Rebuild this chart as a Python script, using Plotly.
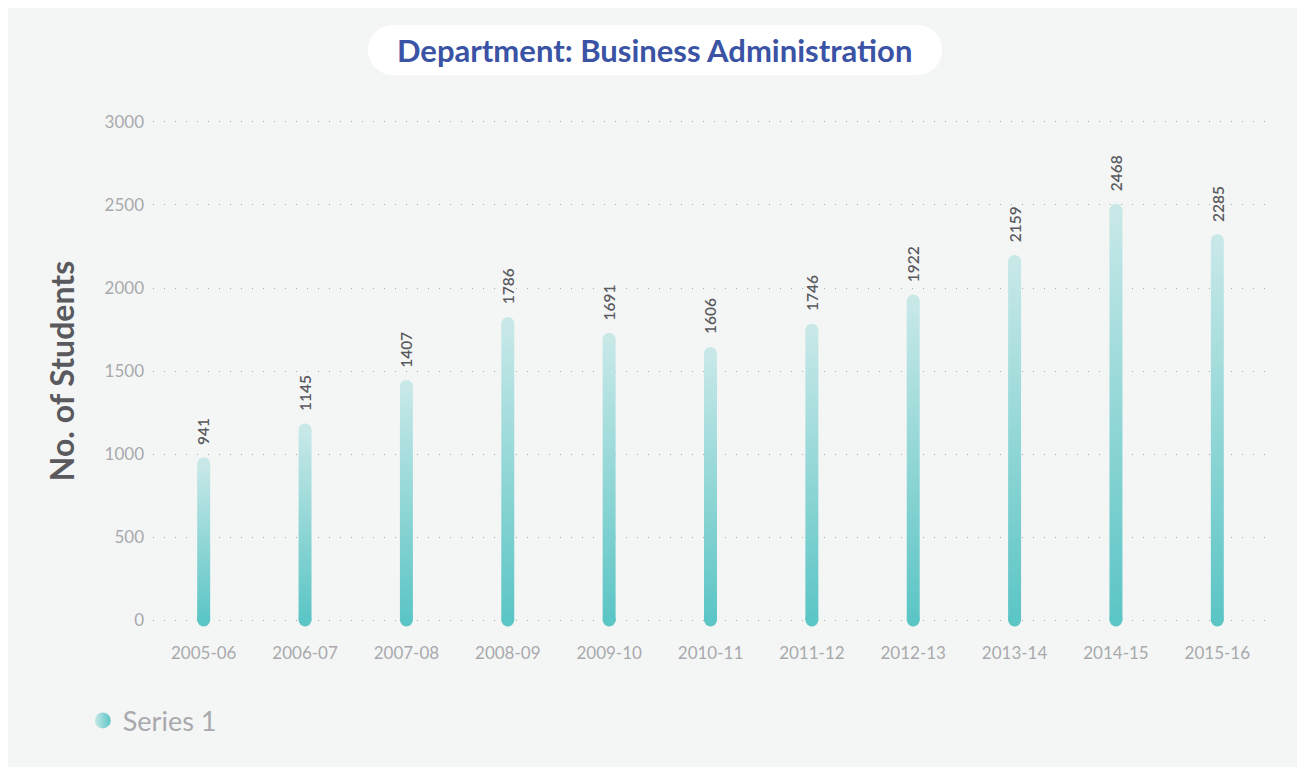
import plotly.graph_objects as go

years = ['2005-06', '2006-07', '2007-08', '2008-09', '2009-10', '2010-11',
         '2011-12', '2012-13', '2013-14', '2014-15', '2015-16']
students = [941, 1145, 1407, 1786, 1691, 1606, 1746, 1922, 2159, 2468, 2285]
y_ticks = [0, 500, 1000, 1500, 2000, 2500, 3000]

TEAL = '#5cc5c5'
LIGHT = '#c8e8e8'
GREY = '#a9a9ad'
FONT = 'Lato'
BAR_HALF = 0.064

fig = go.Figure()

for i, v in enumerate(students):
    # thin bar as a filled polygon with its own vertical gradient
    fig.add_trace(go.Scatter(
        x=[i - BAR_HALF, i + BAR_HALF, i + BAR_HALF, i - BAR_HALF, i - BAR_HALF],
        y=[0, 0, v, v, 0],
        mode='lines',
        fill='toself',
        fillgradient=dict(type='vertical', colorscale=[[0, TEAL], [1, LIGHT]]),
        line=dict(width=0),
        showlegend=False,
        hoverinfo='skip'
    ))
    # rounded ends
    fig.add_trace(go.Scatter(
        x=[i, i],
        y=[0, v],
        mode='markers',
        marker=dict(size=13, color=[TEAL, LIGHT], line=dict(width=0)),
        cliponaxis=False,
        showlegend=False,
        hovertemplate='%{y}<extra></extra>'
    ))
    fig.add_annotation(
        x=i, y=v, text=str(v), textangle=-90, showarrow=False,
        yanchor='bottom', yshift=17,
        font=dict(family=FONT, size=15.5, color='#5a5a5e', weight=600)
    )

# legend entry
fig.add_trace(go.Scatter(
    x=[None], y=[None], mode='markers', name='Series 1',
    marker=dict(size=22, color=LIGHT, gradient=dict(type='horizontal', color=TEAL))
))

# title pill
k = 0.5523 * 25
pill = (f'M -262,-25 L 262,-25 C {262 + k},-25 287,{-k} 287,0 C 287,{k} {262 + k},25 262,25 '
        f'L -262,25 C {-262 - k},25 -287,{k} -287,0 C -287,{-k} {-262 - k},-25 -262,-25 Z')
fig.add_shape(
    type='path', xref='paper', yref='paper', xsizemode='pixel', ysizemode='pixel',
    xanchor=0.4502, yanchor=1.1394, path=pill,
    fillcolor='white', line=dict(width=0), layer='below'
)
fig.add_annotation(
    xref='paper', yref='paper', x=0.4502, y=1.1394, showarrow=False,
    xanchor='center', yanchor='middle',
    text='<b>Department: Business Administration</b>',
    font=dict(family=FONT, size=31, color='#3a53a4')
)

fig.update_layout(
    width=1297,
    height=759,
    margin=dict(l=145, r=37, t=112, b=145),
    paper_bgcolor='#f4f6f5',
    plot_bgcolor='rgba(0,0,0,0)',
    font=dict(family=FONT, color=GREY),
    showlegend=True,
    legend=dict(
        x=-0.063, y=-0.197, xanchor='left', yanchor='middle',
        font=dict(family=FONT, size=27, color=GREY),
        bgcolor='rgba(0,0,0,0)', itemsizing='trace'
    ),
    xaxis=dict(
        range=[-0.5, 10.5],
        tickvals=list(range(len(years))),
        ticktext=years,
        showgrid=False,
        zeroline=False,
        showline=False,
        ticks='',
        ticklabelstandoff=19,
        tickfont=dict(family=FONT, size=17, color=GREY)
    ),
    yaxis=dict(
        range=[-12, 3012],
        tickvals=y_ticks,
        showgrid=True,
        gridcolor='#a9a9a9',
        griddash='1px,10px',
        gridwidth=1,
        zeroline=False,
        showline=False,
        ticks='',
        ticklabelstandoff=8,
        tickfont=dict(family=FONT, size=17, color=GREY),
        title=dict(
            text='<b>No. of Students</b>',
            standoff=20,
            font=dict(family=FONT, size=32, color='#5a5a5e')
        )
    )
)

fig.write_html('out.html')
